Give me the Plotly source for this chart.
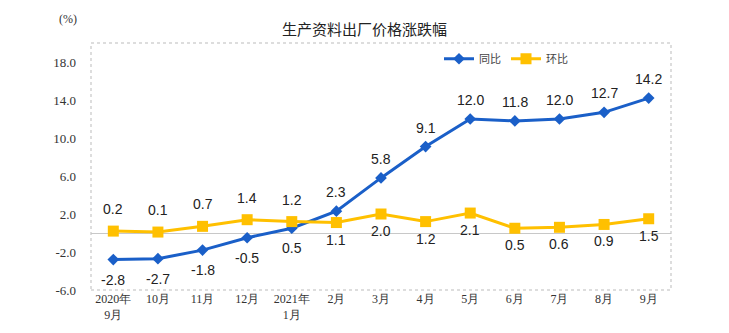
import plotly.graph_objects as go

categories = ["2020年<br>9月", "10月", "11月", "12月", "2021年<br>1月", "2月", "3月",
              "4月", "5月", "6月", "7月", "8月", "9月"]
yoy = [-2.8, -2.7, -1.8, -0.5, 0.5, 2.3, 5.8, 9.1, 12.0, 11.8, 12.0, 12.7, 14.2]
mom = [0.2, 0.1, 0.7, 1.4, 1.2, 1.1, 2.0, 1.2, 2.1, 0.5, 0.6, 0.9, 1.5]
yoy_label_above = [False, False, False, False, False, True, True, True, True, True, True, True, True]
mom_label_above = [True, True, True, True, True, False, False, False, False, False, False, False, False]
y_ticks = [-6, -2, 2, 6, 10, 14, 18]

blue = "#1A5FC8"
yellow = "#FFC000"
x = list(range(len(categories)))

fig = go.Figure()
fig.add_trace(go.Scatter(x=x, y=yoy, name="同比", mode="lines+markers",
                         line=dict(color=blue, width=3),
                         marker=dict(symbol="diamond", size=9, color=blue)))
fig.add_trace(go.Scatter(x=x, y=mom, name="环比", mode="lines+markers",
                         line=dict(color=yellow, width=3),
                         marker=dict(symbol="square", size=11, color=yellow)))

annotations = []
for i, v in enumerate(yoy):
    annotations.append(dict(x=i, y=v, text=f"{v:.1f}", showarrow=False,
                            xref="x", yref="y", yshift=19 if yoy_label_above[i] else -20,
                            font=dict(family="Liberation Sans, Arial", size=14, color="#222")))
for i, v in enumerate(mom):
    annotations.append(dict(x=i, y=v, text=f"{v:.1f}", showarrow=False,
                            xref="x", yref="y", yshift=22 if mom_label_above[i] else -17,
                            font=dict(family="Liberation Sans, Arial", size=14, color="#222")))
annotations.append(dict(x=-0.55, y=1.06, xref="paper", yref="paper", xanchor="center",
                        yanchor="bottom", text="(%)", showarrow=False,
                        font=dict(family="Liberation Serif, Times New Roman", size=12, color="#333")))
# rough placement of (%) label relative to left edge
annotations[-1].update(x=0, xanchor="right", xshift=-12, y=1.0, yshift=15)

shapes = [
    dict(type="rect", xref="paper", yref="paper", x0=0, x1=1, y0=0, y1=1,
         line=dict(color="#BBBBBB", width=1, dash="dot"), layer="below"),
]

fig.update_layout(
    width=729, height=333,
    margin=dict(l=91, r=58, t=43, b=43),
    paper_bgcolor="white", plot_bgcolor="white",
    title=dict(text="生产资料出厂价格涨跌幅", x=0.5, xanchor="center", y=0.91, yanchor="middle",
               font=dict(family="Noto Sans CJK SC", size=15, color="#222")),
    showlegend=True,
    legend=dict(orientation="h", x=0.6, y=0.995, xanchor="left", yanchor="top",
                font=dict(family="Noto Sans CJK SC", size=11, color="#444"),
                bgcolor="rgba(0,0,0,0)", itemwidth=30, tracegroupgap=0),
    xaxis=dict(range=[-0.5, 12.5], tickmode="array", tickvals=x, ticktext=categories,
               showgrid=False, zeroline=False, showline=False, ticks="",
               tickfont=dict(family="Liberation Serif, Times New Roman", size=12, color="#333")),
    yaxis=dict(range=[-6, 20], tickmode="array", tickvals=y_ticks,
               ticktext=[f"{t:.1f}" for t in y_ticks],
               showgrid=False, zeroline=True, zerolinecolor="#C8C8C8", zerolinewidth=1,
               showline=False, ticks="", ticklabelstandoff=14,
               tickfont=dict(family="Liberation Serif, Times New Roman", size=13, color="#333")),
    annotations=annotations, shapes=shapes,
)

fig.write_html("out.html")
